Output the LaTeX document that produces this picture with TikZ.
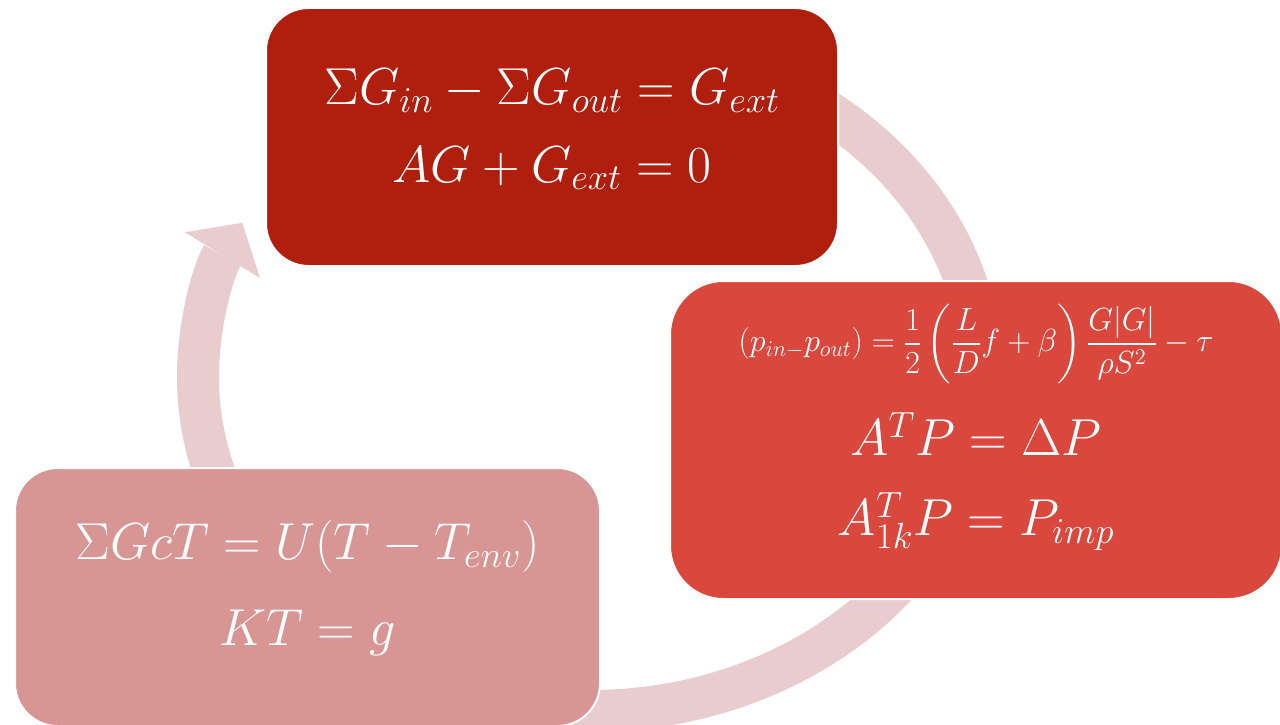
\RequirePackage{fix-cm}
\documentclass[tikz,border=0pt]{standalone}
\usepackage{amsmath}
\usetikzlibrary{arrows.meta}
\definecolor{massred}{HTML}{B01F0D}
\definecolor{pressred}{HTML}{D9473D}
\definecolor{heatpink}{HTML}{D79694}
\definecolor{cyclepink}{HTML}{E9CDCE}

\begin{document}
\begin{tikzpicture}[
  x=0.75pt, y=-0.75pt,
  box/.style={draw=white, line width=1.5pt, rounded corners=32pt, text=white, align=center, inner sep=0pt, font=\fontsize{39}{58}\selectfont},
  cyc/.style={draw=cyclepink, line width=31.5pt, -{Triangle[length=28.5pt, width=66pt, line width=0pt]}}
]
\useasboundingbox (0,0) rectangle (1280,724);
\coordinate (cyctop) at (590,43);
\draw[cyc] (cyctop) arc[start angle=-90, end angle=207.5, x radius=392, y radius=334];
\node[box, fill=massred, minimum width=429pt, minimum height=193.5pt, text depth=17pt] (mass) at (552,137)
  {$\Sigma G_{in}-\Sigma G_{out}=G_{ext}$\\ $AG+G_{ext}=0$};
\node[box, fill=pressred, rounded corners=40pt, minimum width=459pt, minimum height=238.5pt, text depth=30pt] (press) at (976,440)
  {{\fontsize{24}{29}\selectfont $(p_{in-}p_{out})=\dfrac{1}{2}\left(\dfrac{L}{D}f+\beta\right)\dfrac{G|G|}{\rho S^2}-\tau$}\\[20pt]
   $A^TP=\Delta P$\\[2pt] $A_{1k}^TP=P_{imp}$};
\node[box, fill=heatpink, minimum width=438.75pt, minimum height=193.5pt, text depth=21pt] (heat) at (307.5,597)
  {$\Sigma GcT=U(T-T_{env})$\\[6pt] $KT=g$};
\end{tikzpicture}
\end{document}
